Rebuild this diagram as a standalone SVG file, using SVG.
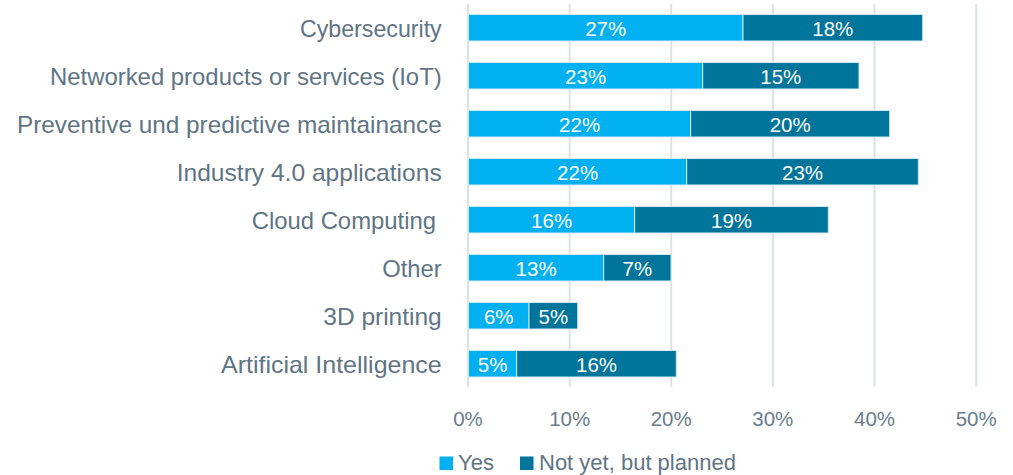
<svg xmlns="http://www.w3.org/2000/svg" width="1013" height="475" viewBox="0 0 1013 475">
<style>
.grid{stroke:#dbe2e7;stroke-width:2}
.yes{fill:#00b0f0;stroke:#cfe9f4;stroke-width:1}
.plan{fill:#00759b;stroke:#cfe9f4;stroke-width:1}
.cat{font-family:"Liberation Sans",Arial,sans-serif;font-size:24px;fill:#5f7484;text-anchor:start}
.val{font-family:"Liberation Sans",Arial,sans-serif;font-size:20.5px;fill:#ffffff;text-anchor:middle}
.ax{font-family:"Liberation Sans",Arial,sans-serif;font-size:20.5px;fill:#6a7d8b;text-anchor:middle}
.leg{font-family:"Liberation Sans",Arial,sans-serif;font-size:22px;fill:#5f7484}
</style>
<rect width="1013" height="475" fill="#ffffff"/>
<g id="gridlines">
<line class="grid" x1="468" y1="4" x2="468" y2="387"/>
<line class="grid" x1="569.7" y1="4" x2="569.7" y2="387"/>
<line class="grid" x1="671.2" y1="4" x2="671.2" y2="387"/>
<line class="grid" x1="772.8" y1="4" x2="772.8" y2="387"/>
<line class="grid" x1="874.5" y1="4" x2="874.5" y2="387"/>
<line class="grid" x1="976.2" y1="4" x2="976.2" y2="387"/>
</g>
<g id="row-cybersecurity">
<text class="cat" x="300" y="36.5" textLength="141.7" lengthAdjust="spacingAndGlyphs">Cybersecurity</text>
<rect class="yes" x="468.5" y="14.5" width="274.5" height="26.5"/>
<rect class="plan" x="743" y="14.5" width="179.7" height="26.5"/>
<text class="val" x="605.7" y="35.5">27%</text>
<text class="val" x="832.8" y="35.5">18%</text>
</g>
<g id="row-iot">
<text class="cat" x="50" y="84.5" textLength="391.7" lengthAdjust="spacingAndGlyphs">Networked products or services (IoT)</text>
<rect class="yes" x="468.5" y="62.5" width="234.2" height="26.5"/>
<rect class="plan" x="702.7" y="62.5" width="156.3" height="26.5"/>
<text class="val" x="585.6" y="83.5">23%</text>
<text class="val" x="780.8" y="83.5">15%</text>
</g>
<g id="row-maintenance">
<text class="cat" x="17" y="132.5" textLength="424.7" lengthAdjust="spacingAndGlyphs">Preventive und predictive maintainance</text>
<rect class="yes" x="468.5" y="110.5" width="222.2" height="26.5"/>
<rect class="plan" x="690.7" y="110.5" width="199" height="26.5"/>
<text class="val" x="579.6" y="131.5">22%</text>
<text class="val" x="790.2" y="131.5">20%</text>
</g>
<g id="row-industry40">
<text class="cat" x="176.7" y="180.5" textLength="265" lengthAdjust="spacingAndGlyphs">Industry 4.0 applications</text>
<rect class="yes" x="468.5" y="158.5" width="218.2" height="26.5"/>
<rect class="plan" x="686.7" y="158.5" width="231.6" height="26.5"/>
<text class="val" x="577.6" y="179.5">22%</text>
<text class="val" x="802.5" y="179.5">23%</text>
</g>
<g id="row-cloud">
<text class="cat" x="251.7" y="228.5" textLength="184.3" lengthAdjust="spacingAndGlyphs">Cloud Computing</text>
<rect class="yes" x="468.5" y="206.5" width="166.2" height="26.5"/>
<rect class="plan" x="634.7" y="206.5" width="193.6" height="26.5"/>
<text class="val" x="551.6" y="227.5">16%</text>
<text class="val" x="731.5" y="227.5">19%</text>
</g>
<g id="row-other">
<text class="cat" x="382.3" y="276.5" textLength="59.4" lengthAdjust="spacingAndGlyphs">Other</text>
<rect class="yes" x="468.5" y="254.5" width="135.2" height="26.5"/>
<rect class="plan" x="603.7" y="254.5" width="67.3" height="26.5"/>
<text class="val" x="536.1" y="275.5">13%</text>
<text class="val" x="637.4" y="275.5">7%</text>
</g>
<g id="row-3dprinting">
<text class="cat" x="323.3" y="324.5" textLength="118.4" lengthAdjust="spacingAndGlyphs">3D printing</text>
<rect class="yes" x="468.5" y="302.5" width="60.5" height="26.5"/>
<rect class="plan" x="529" y="302.5" width="48.7" height="26.5"/>
<text class="val" x="498.8" y="323.5">6%</text>
<text class="val" x="553.4" y="323.5">5%</text>
</g>
<g id="row-ai">
<text class="cat" x="221" y="372.5" textLength="220.7" lengthAdjust="spacingAndGlyphs">Artificial Intelligence</text>
<rect class="yes" x="468.5" y="350.5" width="48.2" height="26.5"/>
<rect class="plan" x="516.7" y="350.5" width="159.6" height="26.5"/>
<text class="val" x="492.6" y="371.5">5%</text>
<text class="val" x="596.5" y="371.5">16%</text>
</g>
<g id="axis">
<text class="ax" x="468" y="426">0%</text>
<text class="ax" x="569.7" y="426">10%</text>
<text class="ax" x="671.2" y="426">20%</text>
<text class="ax" x="772.8" y="426">30%</text>
<text class="ax" x="874.5" y="426">40%</text>
<text class="ax" x="976.2" y="426">50%</text>
</g>
<g id="legend">
<rect x="439.5" y="456.5" width="13.5" height="13.5" fill="#00b0f0"/>
<text class="leg" x="458" y="470">Yes</text>
<rect x="520" y="456.5" width="13.5" height="13.5" fill="#00759b"/>
<text class="leg" x="539" y="470">Not yet, but planned</text>
</g>
</svg>
